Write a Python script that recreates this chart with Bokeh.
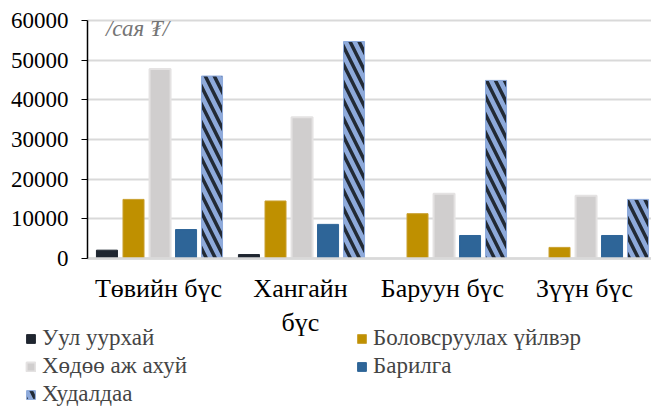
from bokeh.plotting import figure
from bokeh.models import (ColumnDataSource, Range1d, Legend, LegendItem, Label, LinearAxis, Grid,
                          SingleIntervalTicker, FixedTicker)
from bokeh.transform import dodge
from bokeh.embed import file_html
from bokeh.resources import INLINE

categories = ["Төвийн бүс", "Хангайн\nбүс", "Баруун бүс", "Зүүн бүс"]
mining = [2100, 1000, 0, 0]
processing = [14900, 14500, 11300, 2800]
agriculture = [47800, 35600, 16300, 15800]
construction = [7300, 8600, 5800, 5800]
trade = [46000, 54700, 44900, 14900]

series_names = ["Уул уурхай", "Боловсруулах үйлвэр", "Хөдөө аж ахуй", "Барилга", "Худалдаа"]
unit_text = "/сая ₮/"
y_max = 60000
y_step = 10000

FONT = "Liberation Serif"

styles = [
    dict(fill_color="#1f2630", line_color="#1f2630"),
    dict(fill_color="#bf9000", line_color="#c9a030"),
    dict(fill_color="#d0cece", line_color="#e4e2e2", line_width=2),
    dict(fill_color="#2e6598", line_color="#2e6598"),
    dict(fill_color="#8eaadb", line_color="#8eaadb", hatch_pattern="left_diagonal_line",
         hatch_color="#222a35", hatch_scale=18, hatch_weight=3.5),
]
cols = ["mining", "processing", "agriculture", "construction", "trade"]
xs = list(range(len(categories)))

src = ColumnDataSource(dict(x=xs, mining=mining, processing=processing,
                            agriculture=agriculture, construction=construction, trade=trade))

# The frame covers the whole canvas; axes are placed inside it at fixed locations
W, H = 651, 412
left_px, top_px, zero_px, group_px = 87, 20, 258, 142
x_lo = -0.5 - left_px / group_px
x_hi = -0.5 + (W - left_px) / group_px
per_px = y_max / (zero_px - top_px)
y_hi = y_max + top_px * per_px
y_lo = -(H - zero_px) * per_px

p = figure(x_range=Range1d(x_lo, x_hi), y_range=Range1d(y_lo, y_hi),
           width=W, height=H, output_backend="svg", toolbar_location=None,
           x_axis_location=None, y_axis_location=None, min_border=0)
p.outline_line_color = None
p.grid.grid_line_color = None

w = 0.148
offs = [-0.363, -0.176, 0.011, 0.194, 0.377]
rs = []
for c, o, st in zip(cols, offs, styles):
    rs.append(p.vbar(x=dodge("x", o), top=c, width=w, source=src, **st))

yticker = SingleIntervalTicker(interval=y_step)
yaxis = LinearAxis(fixed_location=-0.5, bounds=(0, y_max), ticker=yticker,
                   axis_line_color="black", axis_line_width=1.5,
                   major_tick_out=6, major_tick_in=0, minor_tick_line_color=None,
                   major_label_text_font=FONT, major_label_text_font_size="23px",
                   major_label_text_color="black", major_label_standoff=13)
p.add_layout(yaxis, "left")

xaxis = LinearAxis(fixed_location=0, bounds=(-0.5, x_hi), ticker=FixedTicker(ticks=xs),
                   major_label_overrides={i: c for i, c in enumerate(categories)},
                   axis_line_color="#d9d9d9", axis_line_width=2.5,
                   major_tick_line_color=None, minor_tick_line_color=None,
                   major_label_text_font=FONT, major_label_text_font_size="26px",
                   major_label_text_color="black", major_label_standoff=9)
p.add_layout(xaxis, "below")

grid = Grid(dimension=1, ticker=yticker, bounds=(0, y_max),
            grid_line_color="#d9d9d9", grid_line_width=2)
try:
    grid.cross_bounds = (-0.5, x_hi)
    p.add_layout(grid)
except Exception:
    yt = list(range(y_step, y_max + 1, y_step))
    p.segment(x0=[-0.5] * len(yt), x1=[x_hi] * len(yt), y0=yt, y1=yt,
              line_color="#d9d9d9", line_width=2, level="underlay")

p.add_layout(Label(x=-0.37, y=58000, text=unit_text, text_font=FONT, text_font_style="italic",
                   text_font_size="23px", text_color="#757575", text_baseline="middle"))

legend = Legend(items=[LegendItem(label=n, renderers=[r]) for n, r in zip(series_names, rs)],
                orientation="horizontal", ncols=2, location=(25, 4),
                label_text_font=FONT, label_text_font_size="23px",
                glyph_width=11, glyph_height=11, label_standoff=6, label_width=314,
                spacing=0, padding=0, margin=0, label_height=28,
                click_policy="none",
                background_fill_alpha=0, border_line_color=None)
p.add_layout(legend, "center")

open("out.html", "w").write(file_html(p, INLINE))
